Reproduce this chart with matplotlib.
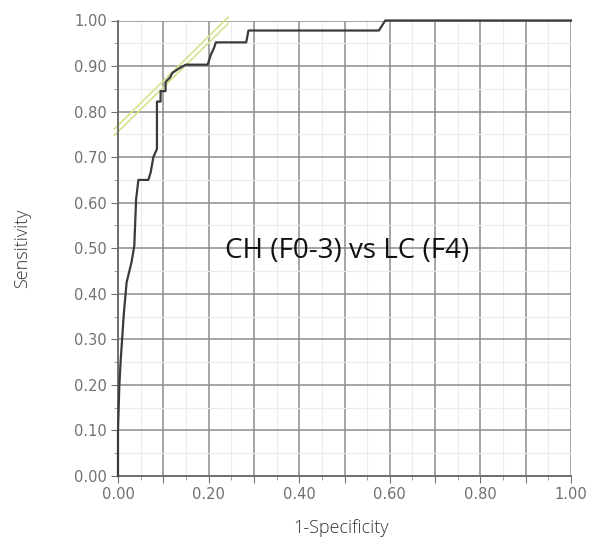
import matplotlib
matplotlib.use("Agg")
import matplotlib.pyplot as plt
from matplotlib.ticker import MultipleLocator, FormatStrFormatter

# ROC curve points
fpr = [0.0, 0.0, 0.003, 0.006, 0.013, 0.019, 0.030, 0.036, 0.040, 0.045, 0.067,
       0.072, 0.078, 0.086, 0.086, 0.094, 0.094, 0.105, 0.105, 0.115, 0.120,
       0.135, 0.150, 0.198, 0.205, 0.212, 0.216, 0.283, 0.288, 0.576, 0.590, 1.0]
sens = [0.0, 0.10, 0.20, 0.255, 0.358, 0.425, 0.47, 0.506, 0.608, 0.65, 0.65,
        0.666, 0.70, 0.718, 0.822, 0.822, 0.845, 0.845, 0.865, 0.875, 0.885,
        0.895, 0.903, 0.903, 0.925, 0.94, 0.952, 0.952, 0.978, 0.978, 1.0, 1.0]

# tangent (cut-off) line
tangent_x = [-0.008, 0.243]
tangent_y = [0.755, 1.0]

label = "CH (F0-3) vs LC (F4)"

fig = plt.figure(figsize=(5.89, 5.46), dpi=100)
ax = fig.add_axes([118 / 589, 1 - 476 / 546, (571 - 118) / 589, (476 - 20.5) / 546])

ax.set_xlim(0, 1)
ax.set_ylim(0, 1)

ax.xaxis.set_major_locator(MultipleLocator(0.1))
ax.yaxis.set_major_locator(MultipleLocator(0.1))
ax.xaxis.set_minor_locator(MultipleLocator(0.05))
ax.yaxis.set_minor_locator(MultipleLocator(0.05))
ax.grid(which="major", color="#8c8c8c", lw=1.1)
ax.grid(which="minor", color="#ececec", lw=0.8)
ax.set_axisbelow(True)

ax.yaxis.set_major_formatter(FormatStrFormatter("%.2f"))
ax.set_xticklabels(["%.2f" % v if round(v * 10) % 2 == 0 else ""
                    for v in ax.get_xticks()])

for s in ["top", "right"]:
    ax.spines[s].set_visible(False)
for s in ["left", "bottom"]:
    ax.spines[s].set_color("#666666")
    ax.spines[s].set_linewidth(1.3)

ax.tick_params(which="major", length=5, color="#707070", labelsize=10.5,
               labelcolor="#707070", pad=3)
ax.tick_params(which="minor", length=3, color="#909090")

ax.plot(tangent_x, [v + 0.007 for v in tangent_y], color="#d6e28c", lw=1.2,
        clip_on=False, zorder=2)
ax.plot(tangent_x, [v - 0.007 for v in tangent_y], color="#d6e28c", lw=1.2,
        clip_on=False, zorder=2)
ax.plot(fpr, sens, color="#3a3a3a", lw=1.6, zorder=3, clip_on=False)

ax.text(0.505, 0.495, label, ha="center", va="center", fontsize=20,
        family="Open Sans", color="#111111")

fig.text(22 / 589, 1 - 248 / 546, "Sensitivity", rotation=90, ha="center",
         va="center", fontsize=13, family="Open Sans", weight="light",
         color="#333333")
fig.text(341 / 589, 1 - 528 / 546, "1-Specificity", ha="center", va="center",
         fontsize=13, family="Open Sans", weight="light", color="#333333")

fig.savefig("out.png", dpi=100)
